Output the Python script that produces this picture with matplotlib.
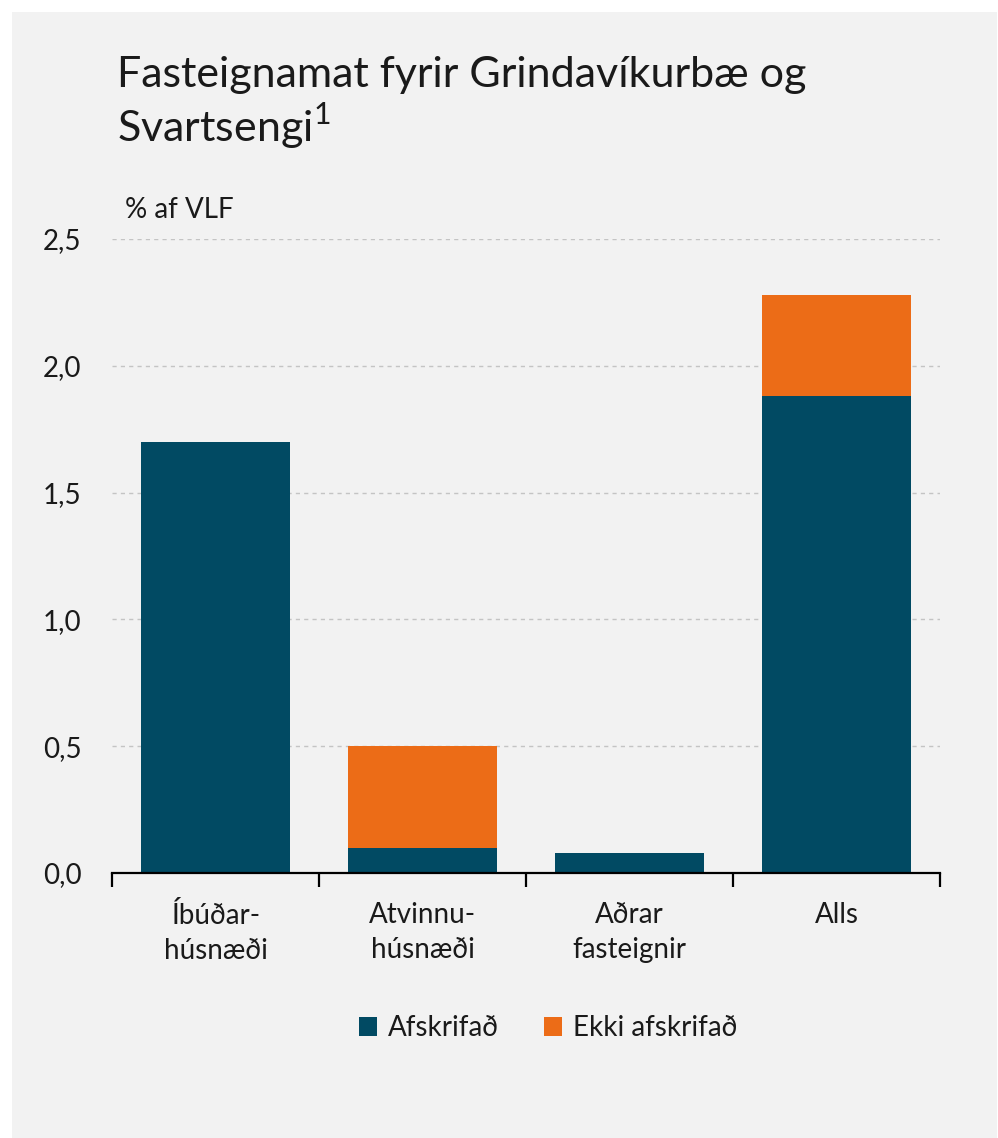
import matplotlib
matplotlib.use("Agg")
import matplotlib.pyplot as plt
from matplotlib.patches import Rectangle
import numpy as np

plt.rcParams['font.family'] = ['Lato', 'DejaVu Sans']
plt.rcParams['mathtext.fontset'] = 'custom'
plt.rcParams['mathtext.rm'] = 'Lato'

categories = ["Íbúðar-\nhúsnæði", "Atvinnu-\nhúsnæði", "Aðrar\nfasteignir", "Alls"]
afskrifad = [1.70, 0.10, 0.08, 1.88]
ekki_afskrifad = [0.00, 0.40, 0.00, 0.40]
yticks = [0.0, 0.5, 1.0, 1.5, 2.0, 2.5]
ytick_labels = ["0,0", "0,5", "1,0", "1,5", "2,0", "2,5"]
series_names = ["Afskrifað", "Ekki afskrifað"]
title = "Fasteignamat fyrir Grindavíkurbæ og\nSvartsengi$^{1}$"
unit_label = "% af VLF"

dark = "#014a63"
orange = "#ec6c17"
bg = "#f2f2f2"
txt = "#1a1a1a"
fs = 20

W, H = 998, 1138
fig = plt.figure(figsize=(W / 100, H / 100), dpi=100)
fig.patch.set_facecolor("white")
fig.add_artist(Rectangle((12 / W, 0), (997 - 12) / W, (H - 12) / H,
                         transform=fig.transFigure, facecolor=bg,
                         edgecolor="none", zorder=0))

ax = fig.add_axes([112 / W, (H - 873) / H, (940 - 112) / W, (873 - 239) / H])
ax.patch.set_alpha(0)

x = np.arange(len(categories))
width = 0.715
ax.bar(x, afskrifad, width, color=dark, label=series_names[0], zorder=3)
ax.bar(x, ekki_afskrifad, width, bottom=afskrifad, color=orange,
       label=series_names[1], zorder=3)

ax.set_xlim(-0.5, len(categories) - 0.5)
ax.set_ylim(0, 2.5)
ax.set_yticks(yticks)
ax.set_yticklabels(ytick_labels, fontsize=fs, color=txt)
ax.tick_params(axis="y", length=0, pad=22)

ax.set_xticks(x)
ax.set_xticklabels(categories, fontsize=fs, color=txt, linespacing=1.4)
ax.tick_params(axis="x", length=0, pad=21)
ax.set_xticks(np.arange(-0.5, len(categories)), minor=True)
ax.tick_params(axis="x", which="minor", length=10, width=1.6, color="black", direction="out")

for s in ["top", "right", "left"]:
    ax.spines[s].set_visible(False)
ax.spines["bottom"].set_linewidth(1.6)
ax.spines["bottom"].set_zorder(4)

for yv in yticks[1:]:
    ax.axhline(yv, color="#c4c4c4", lw=1.0, ls=(0, (3, 3)), zorder=1)

fig.text(117 / W, 1 - 142 / H, title, fontsize=31, color=txt,
         va="baseline", ha="left", linespacing=1.2)
fig.text(125 / W, 1 - 210 / H, unit_label, fontsize=fs, color=txt,
         va="center", ha="left")

leg = fig.legend(loc="center", bbox_to_anchor=(548 / W, 1 - 1028 / H),
                 ncol=2, frameon=False, fontsize=fs, handlelength=0.65,
                 handleheight=0.65, handletextpad=0.4, columnspacing=1.6)
for t in leg.get_texts():
    t.set_color(txt)

fig.savefig("out.png", dpi=100, facecolor=fig.get_facecolor())
